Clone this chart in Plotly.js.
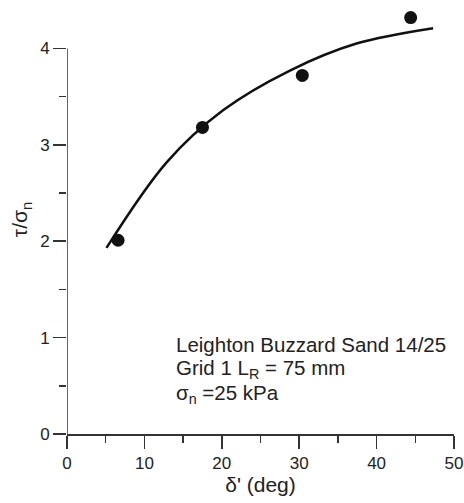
<!DOCTYPE html>
<html>
<head>
<meta charset="utf-8">
<script src="https://cdn.plot.ly/plotly-3.0.1.min.js"></script>
<style>
  html, body { margin: 0; padding: 0; background: #fff; }
  #chart { width: 464px; height: 503px; }
</style>
</head>
<body>
<div id="chart"></div>
<script>
// Measured interface friction angle vs. normalised shear stress
const deltaDeg = [6.6, 17.5, 30.4, 44.4];
const tauRatio = [2.01, 3.18, 3.72, 4.32];

// Fitted trend curve
const fitX = [5.1, 12.9, 20.2, 28.8, 37.4, 47.3];
const fitY = [1.93, 2.82, 3.36, 3.77, 4.05, 4.21];

const family = 'Liberation Sans, Arial, sans-serif';
const tickFont = { family: family, size: 17, color: '#222' };
const titleFont = { family: family, size: 21, color: '#222' };
const noteFont = { family: family, size: 20.5, color: '#222' };

const traces = [
  {
    x: fitX, y: fitY, type: 'scatter', mode: 'lines',
    line: { color: '#111', width: 2.5, shape: 'spline', smoothing: 1 },
    hoverinfo: 'skip'
  },
  {
    x: deltaDeg, y: tauRatio, type: 'scatter', mode: 'markers',
    marker: { color: '#111', size: 13 }
  }
];

const layout = {
  width: 464, height: 503,
  margin: { l: 67, r: 10, t: 5, b: 69 },
  paper_bgcolor: '#fff', plot_bgcolor: '#fff',
  showlegend: false,
  font: tickFont,
  xaxis: {
    range: [0, 50], dtick: 10, tick0: 0,
    showgrid: false, zeroline: false,
    showline: true, linecolor: '#333', linewidth: 1.5,
    ticks: 'outside', ticklen: 13, tickwidth: 1.5, tickcolor: '#333',
    minor: { dtick: 5, ticks: 'outside', ticklen: 7, tickwidth: 1.5, tickcolor: '#333', showgrid: false },
    tickfont: tickFont,
    title: { text: "δ' (deg)", font: titleFont, standoff: 4 }
  },
  yaxis: {
    range: [0, 4.45], dtick: 1, tick0: 0,
    showgrid: false, zeroline: false, showline: false,
    ticks: 'outside', ticklen: 13, tickwidth: 1.5, tickcolor: '#333',
    minor: { dtick: 0.5, ticks: 'outside', ticklen: 7, tickwidth: 1.5, tickcolor: '#333', showgrid: false },
    tickfont: tickFont,
    title: { text: 'τ/σ<sub>n</sub>', font: titleFont, standoff: 6 }
  },
  shapes: [
    // left axis spine stops at the last labelled tick
    { type: 'line', xref: 'x', yref: 'y', x0: 0, x1: 0, y0: 0, y1: 4,
      line: { color: '#333', width: 1.5 } }
  ],
  annotations: [
    { text: 'Leighton Buzzard Sand 14/25', x: 13.8, y: 0.93, xref: 'x', yref: 'y',
      xanchor: 'left', yanchor: 'middle', showarrow: false, font: noteFont },
    { text: 'Grid 1 L<sub>R</sub> = 75 mm', x: 13.8, y: 0.67, xref: 'x', yref: 'y',
      xanchor: 'left', yanchor: 'middle', showarrow: false, font: noteFont },
    { text: 'σ<sub>n</sub> =25 kPa', x: 13.8, y: 0.41, xref: 'x', yref: 'y',
      xanchor: 'left', yanchor: 'middle', showarrow: false, font: noteFont }
  ]
};

Plotly.newPlot('chart', traces, layout, { staticPlot: true, displayModeBar: false });
</script>
</body>
</html>
